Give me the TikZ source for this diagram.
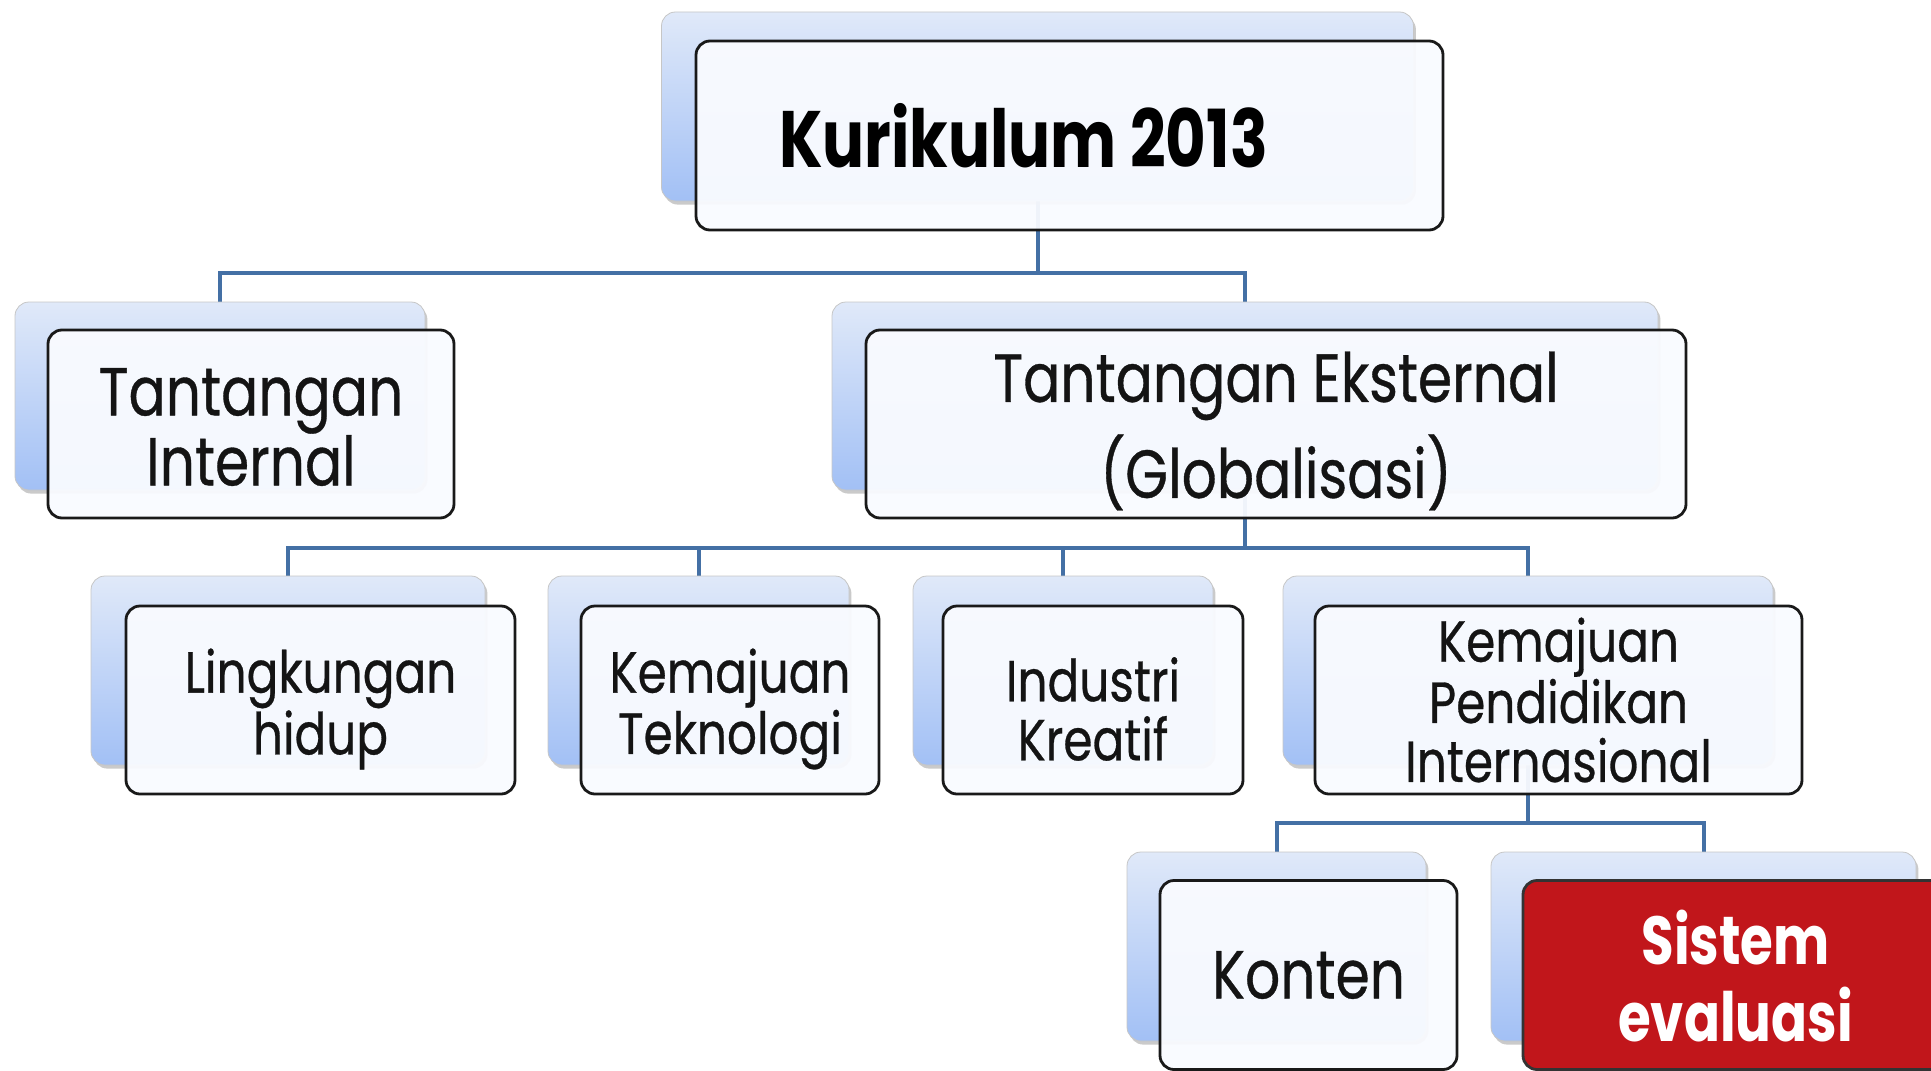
\documentclass[tikz,border=0pt]{standalone}
\usepackage{fontspec}
\setmainfont{Poppins}[FakeStretch=0.81, FakeBold=0.5]
\newfontfamily\heavyfam{Poppins}[FakeStretch=0.78]
\usetikzlibrary{shadows}
\pgfdeclarelayer{bg}
\pgfsetlayers{bg,main}
\definecolor{bkTop}{HTML}{E0E9F9}
\definecolor{bkBot}{HTML}{A2C0F5}
\definecolor{frontFill}{HTML}{F9FBFF}
\definecolor{connCol}{HTML}{4470A5}
\definecolor{redFill}{HTML}{C1161B}
\tikzset{
  backbox/.style={rectangle, rounded corners=7pt, top color=bkTop, bottom color=bkBot,
    draw=gray!45, line width=0.4pt, inner sep=0pt,
    drop shadow={shadow xshift=1.2pt, shadow yshift=-1.8pt, opacity=0.35, fill=black!60}},
  frontbox/.style={rectangle, rounded corners=7pt, fill=frontFill, fill opacity=0.95,
    draw=black!90, line width=1.4pt, inner sep=0pt},
  redbox/.style={frontbox, fill=redFill, fill opacity=1, draw=black!80},
  lbl/.style={align=center, text=black!92, inner sep=0pt},
  conn/.style={draw=connCol, line width=2pt},
  bigtxt/.style={lbl, font=\fontsize{34}{35}\selectfont},
  midtxt/.style={lbl, font=\fontsize{29}{29.5}\selectfont},
}
\begin{document}
\begin{tikzpicture}[x=0.5pt,y=-0.5pt]
\useasboundingbox (0,0) rectangle (1931,1070);

% back panels (x,y of centre in px; size in px)
\node[backbox, minimum width=376pt, minimum height=94.5pt] (kurb) at (1037.5,106.5) {};
\node[backbox, minimum width=205pt, minimum height=94pt] (intb) at (220,396) {};
\node[backbox, minimum width=413pt, minimum height=94pt] (extb) at (1245,396) {};
\node[backbox, minimum width=197pt, minimum height=94.5pt] (lingb) at (288,670.5) {};
\node[backbox, minimum width=150.5pt, minimum height=94.5pt] (tekb) at (698.5,670.5) {};
\node[backbox, minimum width=150pt, minimum height=94.5pt] (indb) at (1063,670.5) {};
\node[backbox, minimum width=245pt, minimum height=94.5pt] (pendb) at (1528,670.5) {};
\node[backbox, minimum width=149.5pt, minimum height=94.5pt] (konb) at (1276.5,946.5) {};
\node[backbox, minimum width=212.5pt, minimum height=94.5pt] (sisb) at (1703.5,946.5) {};

% front panels
\node[frontbox, minimum width=373.5pt, minimum height=94.5pt] (kur) at (1069.5,135.5) {};
\node[frontbox, minimum width=203pt, minimum height=94pt] (int) at (251,424) {};
\node[frontbox, minimum width=410pt, minimum height=94pt] (ext) at (1276,424) {};
\node[frontbox, minimum width=194.5pt, minimum height=94pt] (ling) at (320.5,700) {};
\node[frontbox, minimum width=149pt, minimum height=94pt] (tek) at (730,700) {};
\node[frontbox, minimum width=150pt, minimum height=94pt] (ind) at (1093,700) {};
\node[frontbox, minimum width=243.5pt, minimum height=94pt] (pend) at (1558.5,700) {};
\node[frontbox, minimum width=148.5pt, minimum height=94.5pt] (kon) at (1308.5,975) {};
\node[redbox, minimum width=212.5pt, minimum height=94.5pt] (sis) at (1735.5,975) {};

% labels
\node[lbl, font=\heavyfam\bfseries\fontsize{40}{40}\selectfont, text=black] (kurtxt) at ([xshift=-23pt]kur.center) {Kurikulum 2013};
\node[bigtxt] (inttxt) at ([yshift=-1.5pt]int.center) {Tantangan\\Internal};
\node[lbl, font=\fontsize{34}{48}\selectfont] (exttxt) at ([yshift=-3.5pt]ext.center) {Tantangan Eksternal\\(Globalisasi)};
\node[midtxt] (lingtxt) at ([yshift=-4.5pt]ling.center) {Lingkungan\\hidup};
\node[midtxt] (tektxt) at ([yshift=-4.5pt]tek.center) {Kemajuan\\Teknologi};
\node[midtxt] (indtxt) at ([yshift=-4.5pt]ind.center) {Industri\\Kreatif};
\node[midtxt] (pendtxt) at (pend.center) {Kemajuan\\Pendidikan\\Internasional};
\node[bigtxt] (kontxt) at (kon.center) {Konten};
\node[lbl, text=white, font=\heavyfam\bfseries\fontsize{34}{38.5}\selectfont] (sistxt) at ([yshift=-0.5pt]sis.center) {Sistem\\evaluasi};

% tree connectors
\begin{pgfonlayer}{bg}
\coordinate (j1) at (0,273);
\coordinate (j2) at (0,548);
\coordinate (j3) at (0,823);
\draw[conn] (kurb.south) -- (kurb.south |- j1);
\draw[conn] (intb.north) |- (kurb.south |- j1);
\draw[conn] (extb.north) |- (kurb.south |- j1);
\draw[conn] (extb.south) -- (extb.south |- j2);
\draw[conn] (lingb.north) |- (extb.south |- j2);
\draw[conn] (tekb.north) |- (extb.south |- j2);
\draw[conn] (indb.north) |- (extb.south |- j2);
\draw[conn] (pendb.north) |- (extb.south |- j2);
\draw[conn] (pendb.south) -- (pendb.south |- j3);
\draw[conn] (konb.north) |- (pendb.south |- j3);
\draw[conn] (sisb.north) |- (pendb.south |- j3);
\end{pgfonlayer}
\end{tikzpicture}
\end{document}
